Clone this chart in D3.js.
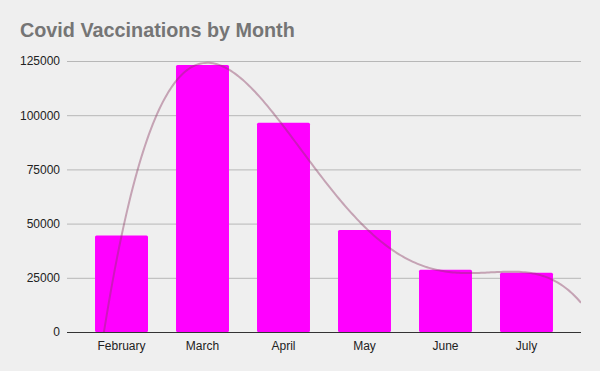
<!DOCTYPE html>
<html><head><meta charset="utf-8">
<script src="https://cdn.jsdelivr.net/npm/d3@7"></script>
<style>html,body{margin:0;padding:0;background:#efefef;}svg{display:block;}</style>
</head><body>
<script>
const months = ["February","March","April","May","June","July"];
const vaccinations = [44500, 123200, 96500, 47000, 28700, 27300];
const yTicks = [0, 25000, 50000, 75000, 100000, 125000];
const title = "Covid Vaccinations by Month";

const W = 600, H = 371;
const m = {left: 67, right: 19, top: 61, bottom: 39};
const svg = d3.select("body").append("svg").attr("width", W).attr("height", H);
svg.append("rect").attr("width", W).attr("height", H).attr("fill", "#efefef");

const x = d3.scaleBand().domain(months).range([m.left, W - m.right]).padding(0.346);
const y = d3.scaleLinear().domain([0, 125000]).range([H - m.bottom, m.top]);

svg.append("text").attr("x", 20).attr("y", 37).text(title)
  .attr("font-family", "Liberation Sans, Arial, sans-serif").attr("font-weight", "bold")
  .attr("font-size", 19.8).attr("fill", "#757575");

// grid
const grid = svg.append("g").attr("transform", `translate(${m.left},0)`)
  .call(d3.axisLeft(y).tickValues(yTicks).tickSize(-(W - m.left - m.right)).tickFormat(d => d).tickPadding(7));
grid.select(".domain").remove();
grid.selectAll(".tick line").attr("stroke", "#b7b7b7");
grid.selectAll(".tick text").attr("font-family", "Liberation Sans, Arial, sans-serif").attr("font-size", 12).attr("fill", "#222");
grid.selectAll(".tick").filter(d => d === 0).select("line").remove();

// bars
svg.append("g").selectAll("rect").data(months).join("rect")
  .attr("x", d => x(d)).attr("width", x.bandwidth())
  .attr("y", (d, i) => y(vaccinations[i])).attr("height", (d, i) => y(0) - y(vaccinations[i]))
  .attr("fill", "#ff00ff").attr("rx", 1.5);

// x axis
const xa = svg.append("g").attr("transform", `translate(0,${H - m.bottom})`)
  .call(d3.axisBottom(x).tickSize(0).tickPadding(9).tickSizeOuter(0));
xa.select(".domain").attr("stroke", "#333").attr("d", `M${m.left},0.5H${W - m.right}`);
xa.selectAll(".tick text").attr("font-family", "Liberation Sans, Arial, sans-serif").attr("font-size", 12).attr("fill", "#222");

// polynomial trendline (least squares, degree 4) on index 1..n
function polyfit(xs, ys, deg) {
  const n = deg + 1;
  const A = Array.from({length: n}, () => new Array(n + 1).fill(0));
  for (let r = 0; r < n; r++) {
    for (let c = 0; c < n; c++) A[r][c] = d3.sum(xs, xv => Math.pow(xv, r + c));
    A[r][n] = d3.sum(xs, (xv, i) => ys[i] * Math.pow(xv, r));
  }
  for (let i = 0; i < n; i++) {
    let p = i;
    for (let k = i + 1; k < n; k++) if (Math.abs(A[k][i]) > Math.abs(A[p][i])) p = k;
    const tmp = A[i]; A[i] = A[p]; A[p] = tmp;
    for (let k = 0; k < n; k++) if (k !== i) {
      const fct = A[k][i] / A[i][i];
      for (let j = i; j <= n; j++) A[k][j] -= fct * A[i][j];
    }
  }
  return A.map((row, i) => row[n] / row[i]);
}
const idx = months.map((d, i) => i + 1);
const coef = polyfit(idx, vaccinations, 4);
const f = t => coef.reduce((s, c, k) => s + c * Math.pow(t, k), 0);
const step = x.step();
const toIdx = px => 1 + (px - (x(months[0]) + x.bandwidth() / 2)) / step;
const pts = d3.range(m.left, W - m.right + 0.5, 2).map(px => [px, y(f(toIdx(px)))]);

svg.append("clipPath").attr("id", "clip").append("rect")
  .attr("x", m.left).attr("y", 0).attr("width", W - m.left - m.right).attr("height", H - m.bottom);
svg.append("path").attr("clip-path", "url(#clip)")
  .attr("d", d3.line()(pts))
  .attr("fill", "none").attr("stroke", "#8b3a62").attr("stroke-opacity", 0.42).attr("stroke-width", 2);
</script>
</body></html>
